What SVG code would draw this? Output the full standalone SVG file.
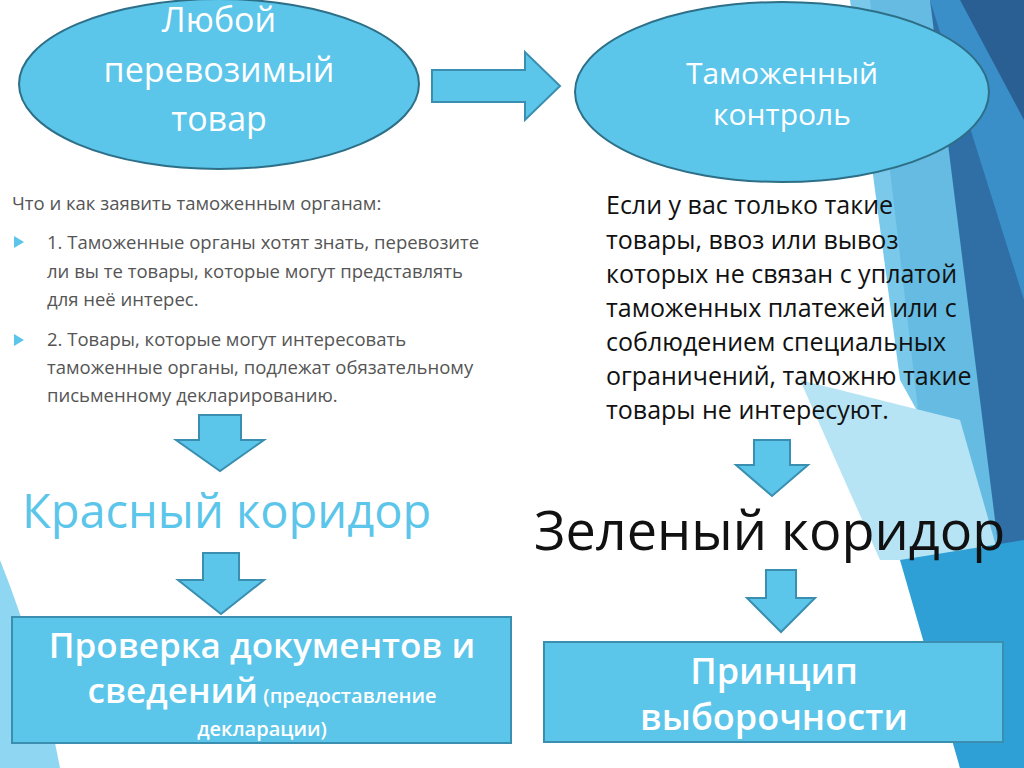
<svg xmlns="http://www.w3.org/2000/svg" width="1024" height="768" viewBox="0 0 1024 768">
<defs>
<style>
.el{fill:#5BC5EA;stroke:#2E6F88;stroke-width:2}
.ar{fill:#5BC5EA;stroke:#3A8EB0;stroke-width:2}
.bx{fill:#5BC5EA;stroke:#3A8EB0;stroke-width:2}
.w{fill:#fff;font-family:"Open Sans","DejaVu Sans",sans-serif}
.g{fill:#555;font-family:"Open Sans","DejaVu Sans",sans-serif;font-size:18.5px}
.k{fill:#111;font-family:"Open Sans","DejaVu Sans",sans-serif}
</style>
</defs>
<rect width="1024" height="768" fill="#fff"/>
<g id="bg">
<polygon points="870,0 1024,0 1024,768 960,768" fill="#2F6FA6"/>
<polygon points="930,0 1024,0 1024,300" fill="#3B8FC9"/>
<polygon points="850,0 930,0 1000,560 900,380" fill="#6CC3E8" opacity="0.9"/>
<polygon points="800,380 960,420 1000,560 880,560" fill="#B6E4F5"/>
<polygon points="900,560 1024,540 1024,768 960,768" fill="#2EA0D6"/>
<polygon points="960,0 1024,0 1024,120" fill="#2A5F94"/>
<path d="M0,560 Q40,660 60,768 L0,768 Z" fill="#8FD6F2"/>
</g>
<g id="n1"><ellipse class="el" cx="219" cy="84" rx="200" ry="85"/>
<text class="w" font-size="34" text-anchor="middle"><tspan x="219" y="32">Любой</tspan><tspan x="219" y="82">перевозимый</tspan><tspan x="219" y="131">товар</tspan></text></g>
<g id="n2"><ellipse class="el" cx="782" cy="92" rx="207" ry="90"/>
<text class="w" font-size="30" text-anchor="middle"><tspan x="782" y="84">Таможенный</tspan><tspan x="782" y="125">контроль</tspan></text></g>
<g id="t1">
<text class="g" x="12" y="210">Что и как заявить таможенным органам:</text>
<polygon points="14,236 24,242 14,248" fill="#5BC5EA"/>
<polygon points="14,334 24,340 14,346" fill="#5BC5EA"/>
<text class="g"><tspan x="47" y="249">1. Таможенные органы хотят знать, перевозите</tspan><tspan x="47" y="278">ли вы те товары, которые могут представлять</tspan><tspan x="47" y="306">для неё интерес.</tspan></text>
<text class="g"><tspan x="47" y="346">2. Товары, которые могут интересовать</tspan><tspan x="47" y="374">таможенные органы, подлежат обязательному</tspan><tspan x="47" y="402">письменному декларированию.</tspan></text>
</g>
<g id="t2"><text class="k" font-size="25"><tspan x="606" y="214">Если у вас только такие</tspan><tspan x="606" y="249">товары, ввоз или вывоз</tspan><tspan x="606" y="283">которых не связан с уплатой</tspan><tspan x="606" y="317">таможенных платежей или с</tspan><tspan x="606" y="351">соблюдением специальных</tspan><tspan x="606" y="385">ограничений, таможню такие</tspan><tspan x="606" y="419">товары не интересуют.</tspan></text></g>
<g id="red"><text x="22" y="528" font-family="'Open Sans','DejaVu Sans',sans-serif" font-size="47" fill="#5BC5EA">Красный коридор</text></g>
<g id="green"><text class="k" x="534" y="550" font-size="54">Зеленый коридор</text></g>
<g id="b1"><rect class="bx" x="12" y="617" width="499" height="126"/>
<text class="w" font-weight="600" text-anchor="middle"><tspan x="262" y="658" font-size="35">Проверка документов и</tspan><tspan x="262" y="703"><tspan font-size="35">сведений</tspan><tspan font-size="20"> (предоставление</tspan></tspan><tspan x="262" y="736" font-size="20">декларации)</tspan></text></g>
<g id="b2"><rect class="bx" x="544" y="642" width="459" height="100"/>
<text class="w" font-weight="600" font-size="36" text-anchor="middle"><tspan x="774" y="684">Принцип</tspan><tspan x="774" y="730">выборочности</tspan></text></g>
<g id="connectors">
<polygon class="ar" points="432,70 525,70 525,52 560,86 525,120 525,102 432,102"/>
<polygon class="ar" points="199,415 241,415 241,440 264,440 220,471 176,440 199,440"/>
<polygon class="ar" points="203,553 239,553 239,580 264,580 221,614 178,580 203,580"/>
<polygon class="ar" points="754,440 790,440 790,465 808,465 772,496 736,465 754,465"/>
<polygon class="ar" points="766,570 796,570 796,598 815,598 781,632 747,598 766,598"/>
</g>
</svg>
